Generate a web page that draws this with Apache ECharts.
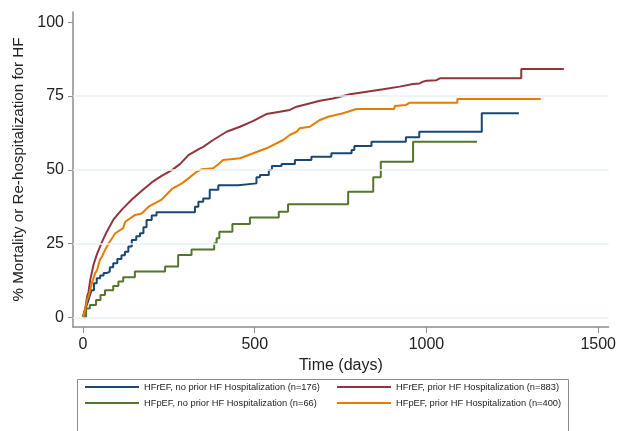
<!DOCTYPE html>
<html>
<head>
<meta charset="utf-8">
<script src="https://cdn.jsdelivr.net/npm/echarts@6/dist/echarts.min.js"></script>
<style>
html,body{margin:0;padding:0;background:#fff;}
#chart{width:619px;height:431px;}
</style>
</head>
<body>
<div id="chart"></div>
<script>
// Series names
const seriesNames = [
  'HFrEF, no prior HF Hospitalization (n=176)',
  'HFrEF, prior HF Hospitalization (n=883)',
  'HFpEF, no prior HF Hospitalization (n=66)',
  'HFpEF, prior HF Hospitalization (n=400)'
];
// Kaplan-Meier curves: [day, cumulative % event]
// (sparse curves: step corners; dense curves: points traced along the curve incl. corners of long flats)
const hfrefNoPrior = [[0,0],[4,2],[8,3],[11,4.2],[15,5.5],[20,7.5],[25,9.2],[32,11.5],[40,13.2],[50,14.2],[60,15],[69,15.5],[78,17],[88,18.3],[100,19.8],[112,21],[122,22.2],[132,24],[142,26.2],[155,27.5],[166,28.5],[176,30.5],[185,33],[200,34.5],[214,35.6],[326,37.5],[336,39.2],[350,40.3],[369,43.2],[394,44.8],[452,45.4],[505,47.5],[515,48.2],[541,49.9],[550,51.3],[578,52.0],[617,53.3],[665,54.4],[723,55.6],[782,56.7],[790,58.1],[840,59.5],[940,61.0],[979,62.9],[1161,69.2],[1269,69.2]];
const hfrefPrior = [[0,0],[6,2.5],[12,7.0],[16,8.5],[21,12.6],[31,18.0],[41,21.5],[55,25.5],[70,29.2],[89,33.2],[113,36.5],[143,40.0],[172,43.0],[201,45.8],[230,48.0],[259,49.9],[283,52.0],[307,55.0],[337,57.0],[350,57.8],[379,60.1],[418,62.9],[457,64.6],[496,66.6],[534,68.9],[573,69.7],[602,70.3],[622,71.4],[690,73.4],[728,74.2],[777,75.6],[816,76.3],[874,77.3],[922,78.2],[961,79.1],[980,79.3],[990,79.9],[1000,80.2],[1029,80.4],[1039,81.0],[1276,81.0],[1276,84.2],[1400,84.2]];
const hfpefNoPrior = [[0,0],[9,3.0],[20,4.2],[38,5.9],[51,7.6],[64,9.2],[88,10.6],[103,12.1],[117,13.6],[151,15.5],[239,17.2],[277,21.1],[316,23.0],[382,25.1],[389,26.8],[397,29.0],[435,31.6],[486,33.8],[570,35.8],[597,38.3],[772,42.6],[845,47.5],[867,52.7],[961,59.5],[1147,59.5]];
const hfpefPrior = [[0,0],[6,2.5],[12,5.9],[16,7.0],[26,11.5],[35,14.9],[41,16.0],[49,19.4],[55,20.5],[64,22.8],[75,25.1],[94,28.5],[117,30.2],[123,32.4],[152,34.7],[171,35.2],[191,37.5],[230,40.0],[259,43.5],[288,45.4],[307,47.1],[332,49.4],[346,50.2],[379,50.5],[395,52],[408,53.3],[457,53.9],[496,55.6],[534,57.3],[583,60.1],[602,61.8],[622,62.9],[631,64.1],[660,64.6],[690,66.9],[714,68.0],[757,69.2],[796,70.6],[906,70.6],[908,71.6],[941,72.0],[950,72.7],[1090,72.7],[1090,74.0],[1333,74.0]];
// Tick labels
const xTicks = [0, 500, 1000, 1500];
const yTicks = [0, 25, 50, 75, 100];
const yGridLines = [0, 25, 50, 75];

const FONT = 'Liberation Sans, Arial, sans-serif';
const colors = ['#1a476f', '#90353b', '#55752f', '#e37e00'];
const stepMode = ['end', false, 'end', false];
const axisCol = '#8c8c8c';
const chart = echarts.init(document.getElementById('chart'), null, {renderer: 'canvas'});

const curves = [hfrefNoPrior, hfrefPrior, hfpefNoPrior, hfpefPrior];
const series = curves.map((d, i) => ({
  name: seriesNames[i],
  type: 'line',
  step: stepMode[i],
  data: d,
  showSymbol: false,
  symbol: 'none',
  color: colors[i],
  lineStyle: {color: colors[i], width: 2},
  z: 3
}));
series.unshift({
  name: 'grid',
  type: 'line',
  data: [],
  silent: true,
  z: 1,
  markLine: {
    silent: true,
    symbol: 'none',
    label: {show: false},
    lineStyle: {color: '#eaf1f4', width: 1.5, type: 'solid'},
    data: yGridLines.map(v => ({yAxis: v}))
  }
});

chart.setOption({
  animation: false,
  backgroundColor: '#ffffff',
  textStyle: {fontFamily: FONT},
  grid: {left: 73, right: 10, top: 12, bottom: 104, containLabel: false},
  xAxis: {
    type: 'value',
    min: -29.1,
    max: 1530.4,
    name: 'Time (days)',
    nameLocation: 'middle',
    nameGap: 27,
    nameTextStyle: {fontSize: 16, color: '#222', fontFamily: FONT},
    axisLine: {show: true, onZero: false, lineStyle: {color: axisCol, width: 1.5}},
    axisTick: {show: true, length: 6, customValues: xTicks, lineStyle: {color: axisCol, width: 1}},
    axisLabel: {customValues: xTicks, formatter: v => String(v), fontSize: 16, color: '#222', margin: 10, fontFamily: FONT},
    splitLine: {show: false}
  },
  yAxis: {
    type: 'value',
    min: -3.29,
    max: 103.5,
    name: '% Mortality or Re-hospitalization for HF',
    nameLocation: 'middle',
    nameGap: 47,
    nameRotate: 90,
    nameTextStyle: {fontSize: 15.2, color: '#222', fontFamily: FONT},
    axisLine: {show: true, onZero: false, lineStyle: {color: axisCol, width: 1.5}},
    axisTick: {show: true, length: 5, customValues: yTicks, lineStyle: {color: axisCol, width: 1}},
    axisLabel: {customValues: yTicks, formatter: v => String(v), fontSize: 16, color: '#222', margin: 9, fontFamily: FONT},
    splitLine: {show: false}
  },
  legend: [
    {
      left: 85, top: 381.5, padding: 0, orient: 'vertical', icon: 'rect',
      itemWidth: 54, itemHeight: 2, itemGap: 5,
      data: [seriesNames[0], seriesNames[2]],
      textStyle: {fontSize: 9.3, lineHeight: 11, color: '#222', fontFamily: FONT}
    },
    {
      left: 337, top: 381.5, padding: 0, orient: 'vertical', icon: 'rect',
      itemWidth: 54, itemHeight: 2, itemGap: 5,
      data: [seriesNames[1], seriesNames[3]],
      textStyle: {fontSize: 9.3, lineHeight: 11, color: '#222', fontFamily: FONT}
    }
  ],
  graphic: [{
    type: 'rect',
    shape: {x: 77.5, y: 379.5, width: 491, height: 70},
    style: {fill: 'none', stroke: '#8c8c8c', lineWidth: 1},
    silent: true,
    z: -1
  }],
  series: series
});
</script>
</body>
</html>
